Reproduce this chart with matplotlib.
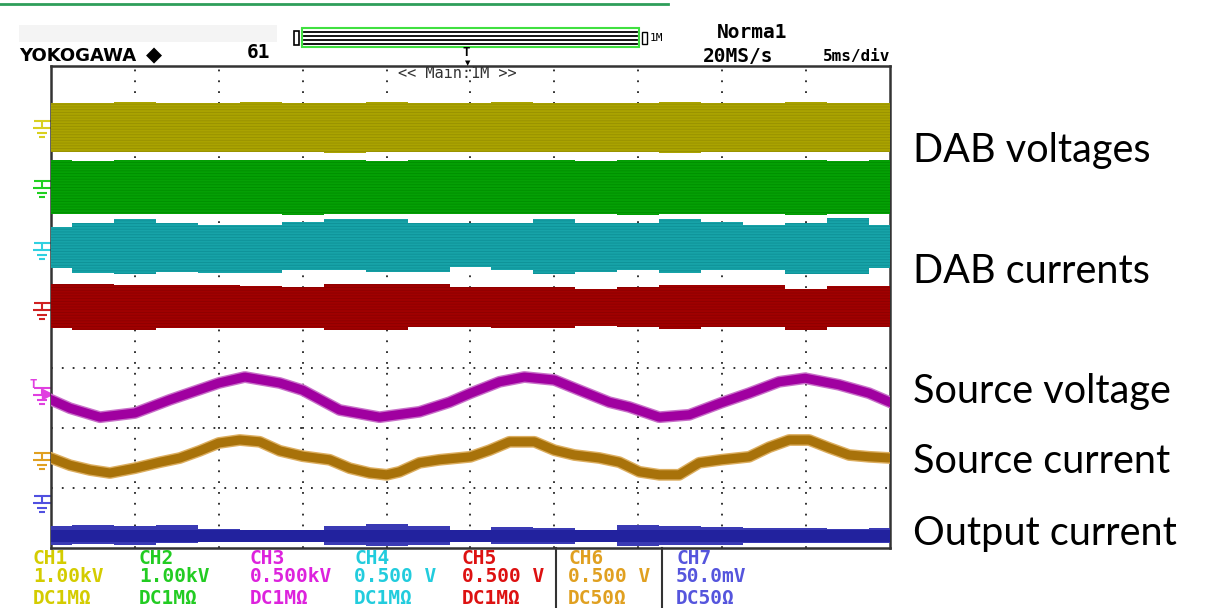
import numpy as np
import matplotlib.pyplot as plt
from matplotlib.path import Path
from matplotlib.patches import Rectangle
from matplotlib.lines import Line2D

# tiempo en ms (5 ms/div), valores en divisiones desde el borde inferior de la pantalla
t_env = [0, 2.5, 5, 7.5, 10, 12.5, 15, 17.5, 20, 22.5, 25, 27.5, 30, 32.5, 35,
         37.5, 40, 42.5, 45, 47.5, 50]

# DAB voltages (CH1, CH2)
ch1_top = [7.42, 7.42, 7.43, 7.42, 7.42, 7.43, 7.42, 7.42, 7.43, 7.42, 7.42,
           7.43, 7.42, 7.42, 7.42, 7.43, 7.42, 7.42, 7.43, 7.42, 7.42]
ch1_bot = [6.6, 6.6, 6.6, 6.6, 6.6, 6.6, 6.6, 6.58, 6.6, 6.6, 6.6,
           6.6, 6.6, 6.6, 6.6, 6.58, 6.6, 6.6, 6.6, 6.6, 6.6]
ch2_top = [6.47, 6.45, 6.47, 6.47, 6.47, 6.47, 6.47, 6.47, 6.45, 6.47, 6.47,
           6.47, 6.47, 6.45, 6.47, 6.47, 6.47, 6.47, 6.47, 6.45, 6.47]
ch2_bot = [5.57, 5.57, 5.57, 5.57, 5.57, 5.57, 5.55, 5.57, 5.57, 5.57, 5.57,
           5.57, 5.57, 5.57, 5.55, 5.57, 5.57, 5.57, 5.55, 5.57, 5.57]

# DAB currents (CH4, CH5)
ch4_top = [5.35, 5.42, 5.48, 5.42, 5.38, 5.38, 5.43, 5.48, 5.48, 5.42, 5.42,
           5.42, 5.48, 5.42, 5.42, 5.48, 5.43, 5.38, 5.42, 5.5, 5.38]
ch4_bot = [4.67, 4.58, 4.57, 4.6, 4.58, 4.58, 4.63, 4.63, 4.6, 4.6, 4.68,
           4.63, 4.57, 4.6, 4.63, 4.58, 4.63, 4.63, 4.57, 4.57, 4.67]
ch5_top = [4.4, 4.4, 4.38, 4.38, 4.38, 4.37, 4.35, 4.4, 4.4, 4.4, 4.35,
           4.35, 4.35, 4.32, 4.35, 4.38, 4.38, 4.38, 4.32, 4.37, 4.37]
ch5_bot = [3.67, 3.63, 3.63, 3.67, 3.67, 3.67, 3.67, 3.63, 3.63, 3.68, 3.68,
           3.67, 3.67, 3.7, 3.68, 3.65, 3.68, 3.68, 3.63, 3.68, 3.68]

# Output current (CH7): nucleo y picos de ruido
ch7_core_top = [0.3] * 21
ch7_core_bot = [0.1] * 21
ch7_top = [0.37, 0.38, 0.37, 0.38, 0.32, 0.3, 0.3, 0.37, 0.4, 0.37, 0.3,
           0.35, 0.33, 0.3, 0.38, 0.37, 0.35, 0.33, 0.33, 0.32, 0.33]
ch7_bot = [0.05, 0.07, 0.05, 0.08, 0.1, 0.1, 0.1, 0.05, 0.03, 0.05, 0.1,
           0.07, 0.07, 0.1, 0.03, 0.05, 0.05, 0.08, 0.08, 0.08, 0.08]

# Source voltage (CH3)
t_v = [0.0, 1.13, 2.92, 5.0, 7.08, 10.0, 11.55, 13.63, 15.0, 17.2, 19.58, 21.96,
       23.75, 25.0, 26.73, 28.21, 30.0, 31.49, 33.27, 34.46, 36.25, 38.04, 39.94,
       41.6, 43.39, 44.94, 46.96, 48.75, 50.0]
src_v = [2.47, 2.33, 2.18, 2.25, 2.47, 2.75, 2.85, 2.75, 2.63, 2.3, 2.18, 2.27,
         2.43, 2.58, 2.77, 2.85, 2.8, 2.63, 2.43, 2.35, 2.18, 2.22, 2.42,
         2.58, 2.77, 2.83, 2.72, 2.58, 2.43]

# Source current (CH6)
t_i = [0.0, 1.13, 2.32, 3.51, 5.0, 6.49, 7.68, 8.87, 10.0, 11.25, 12.44, 13.63,
       15.0, 16.61, 17.8, 18.99, 20.0, 20.77, 21.96, 23.15, 25.0, 26.13, 27.32,
       28.81, 30.0, 31.19, 32.68, 33.87, 35.06, 36.25, 37.44, 38.63, 39.94, 41.61,
       42.8, 43.99, 45.18, 46.37, 47.56, 48.75, 50.0]
src_i = [1.5, 1.38, 1.3, 1.25, 1.33, 1.43, 1.5, 1.62, 1.75, 1.8, 1.77, 1.62,
         1.53, 1.47, 1.33, 1.25, 1.22, 1.27, 1.42, 1.47, 1.52, 1.63, 1.77,
         1.77, 1.63, 1.55, 1.5, 1.43, 1.27, 1.22, 1.22, 1.42, 1.47, 1.52,
         1.68, 1.8, 1.8, 1.67, 1.55, 1.52, 1.5]

# niveles de tierra de cada canal (div)
gnd_level = [6.97, 5.97, 4.93, 3.93, 2.52, 1.43, 0.72]
gnd_color = ['#d8d020', '#20d020', '#30d0e0', '#d02020', '#e040e0', '#e0a020', '#5050e0']

ch_names = ['CH1', 'CH2', 'CH3', 'CH4', 'CH5', 'CH6', 'CH7']
ch_scale = ['1.00kV', '1.00kV', '0.500kV', '0.500 V', '0.500 V', '0.500 V', '50.0mV']
ch_coupling = ['DC1MΩ', 'DC1MΩ', 'DC1MΩ', 'DC1MΩ', 'DC1MΩ', 'DC50Ω', 'DC50Ω']
ch_text_color = ['#d4cc00', '#22cc22', '#dd22dd', '#22ccdd', '#dd1111', '#e0a020', '#5555dd']
ch_col_x = [33, 139, 250, 354, 462, 568, 676]

labels = ['DAB voltages', 'DAB currents', 'Source voltage', 'Source current', 'Output current']
label_base = [162, 283, 403, 473, 545]

W, H = 1211, 608
fig = plt.figure(figsize=(W / 100, H / 100), dpi=100)
ax = fig.add_axes([51 / W, 60 / H, 839 / W, 482 / H])
ax.set_xlim(0, 50)
ax.set_ylim(0, 482 / 60)
ax.set_xticks([5, 10, 15, 20, 25, 30, 35, 40, 45])
ax.set_yticks([1, 2, 3, 4, 5, 6, 7])
ax.tick_params(length=0, labelbottom=False, labelleft=False)
ax.grid(True, color='#222222', lw=1.3, ls=(0, (1, 5)), zorder=1)
for s in ax.spines.values():
    s.set_color('#333333')
    s.set_linewidth(1.8)

plt.rcParams['hatch.linewidth'] = 0.6


def banda(top, bot, color, trama):
    ax.fill_between(t_env, bot, top, step='mid', color=color, lw=0, zorder=3)
    ax.fill_between(t_env, bot, top, step='mid', facecolor='none', edgecolor=trama,
                    hatch='------', lw=0, zorder=4)


banda(ch1_top, ch1_bot, '#aaa300', '#979000')
banda(ch2_top, ch2_bot, '#05a005', '#008e00')
banda(ch4_top, ch4_bot, '#17a3a8', '#0e9096')
banda(ch5_top, ch5_bot, '#a00000', '#8c0000')

# CH7
ax.fill_between(t_env, ch7_bot, ch7_top, step='mid', color='#3a3ab4', lw=0, zorder=3)
ax.fill_between(t_env, ch7_core_bot, ch7_core_top, color='#22229e', lw=0, zorder=4)

# CH3 y CH6
ax.plot(t_v, src_v, color='#c870c8', lw=8.5, zorder=5)
ax.plot(t_v, src_v, color='#a000a0', lw=6.5, zorder=6)
ax.plot(t_i, src_i, color='#dcae60', lw=8.5, zorder=5)
ax.plot(t_i, src_i, color='#a8720a', lw=6.5, zorder=6)

# simbolos de tierra
gnd = Path([(-0.45, 0.5), (0.5, 0.5), (0, 0.5), (0, 0.1), (-0.5, 0.1), (0.55, 0.1),
            (-0.3, -0.15), (0.3, -0.15), (-0.15, -0.4), (0.15, -0.4)],
           [Path.MOVETO, Path.LINETO, Path.MOVETO, Path.LINETO, Path.MOVETO, Path.LINETO,
            Path.MOVETO, Path.LINETO, Path.MOVETO, Path.LINETO])
for lvl, c in zip(gnd_level, gnd_color):
    ax.plot([-0.55], [lvl], marker=gnd, ms=14, mec=c, mfc='none', mew=1.5, clip_on=False)
ax.plot([-0.25], [gnd_level[4] + 0.05], marker='>', ms=7, color='#e040e0', clip_on=False)
ax.text(-1.05, gnd_level[4] + 0.1, 'T', color='#e040e0', fontsize=9, fontweight='bold',
        family='DejaVu Sans Mono', ha='center', va='bottom', clip_on=False)

# etiquetas de la derecha
for txt, yb in zip(labels, label_base):
    fig.text(913 / W, 1 - yb / H, txt, fontsize=28.5, family='Lato', va='baseline', color='black')

# cabecera del osciloscopio
fig.add_artist(Line2D([0, 668 / W], [1 - 4 / H, 1 - 4 / H], color='#2e9e5a', lw=2))
fig.add_artist(Rectangle((19 / W, 1 - 42 / H), 258 / W, 17 / H, color='#f4f4f4', lw=0))
fig.text(19 / W, 1 - 56 / H, 'YOKOGAWA', fontsize=13, fontweight='bold', family='DejaVu Sans',
         va='center')
fig.text(146 / W, 1 - 55 / H, '◆', fontsize=15, family='DejaVu Sans', va='center')
fig.text(247 / W, 1 - 53 / H, '61', fontsize=14, fontweight='bold', family='DejaVu Sans Mono',
         va='center')
fig.add_artist(Rectangle((294 / W, 1 - 45 / H), 5 / W, 14 / H, fill=False, ec='black', lw=1.2))
fig.add_artist(Rectangle((302 / W, 1 - 47 / H), 337 / W, 19 / H, fill=False, ec='#40e040', lw=1.5))
for yy in [32, 36, 40, 44]:
    fig.add_artist(Line2D([304 / W, 637 / W], [1 - yy / H, 1 - yy / H], color='black', lw=1.3))
fig.add_artist(Rectangle((642 / W, 1 - 44 / H), 5 / W, 12 / H, fill=False, ec='black', lw=1))
fig.text(650 / W, 1 - 38 / H, '1M', fontsize=8, family='DejaVu Sans Mono', va='center')
fig.text(466 / W, 1 - 52 / H, 'T', fontsize=9, fontweight='bold', family='DejaVu Sans Mono',
         ha='center', va='center')
fig.text(468 / W, 1 - 63 / H, '▼', fontsize=5, family='DejaVu Sans', ha='center', va='center')
fig.text(398 / W, 1 - 73 / H, '<< Main:1M >>', fontsize=11, family='DejaVu Sans Mono',
         color='#333333', va='center')
fig.text(717 / W, 1 - 33 / H, 'Norma1', fontsize=14, fontweight='bold', family='DejaVu Sans Mono',
         va='center')
fig.text(703 / W, 1 - 56 / H, '20MS/s', fontsize=14, fontweight='bold', family='DejaVu Sans Mono',
         va='center')
fig.text(823 / W, 1 - 56 / H, '5ms/div', fontsize=11.5, fontweight='bold', family='DejaVu Sans Mono',
         va='center')

# pie con los canales
for i in range(7):
    for txt, yy in zip([ch_names[i], ch_scale[i], ch_coupling[i]], [558, 577, 598]):
        fig.text(ch_col_x[i] / W, 1 - yy / H, txt, fontsize=14, fontweight='bold',
                 family='DejaVu Sans Mono', color=ch_text_color[i], va='center')
for xx in [556, 662]:
    fig.add_artist(Line2D([xx / W, xx / W], [0, 60 / H], color='#333333', lw=1.5))

fig.savefig('out.png', dpi=100)
